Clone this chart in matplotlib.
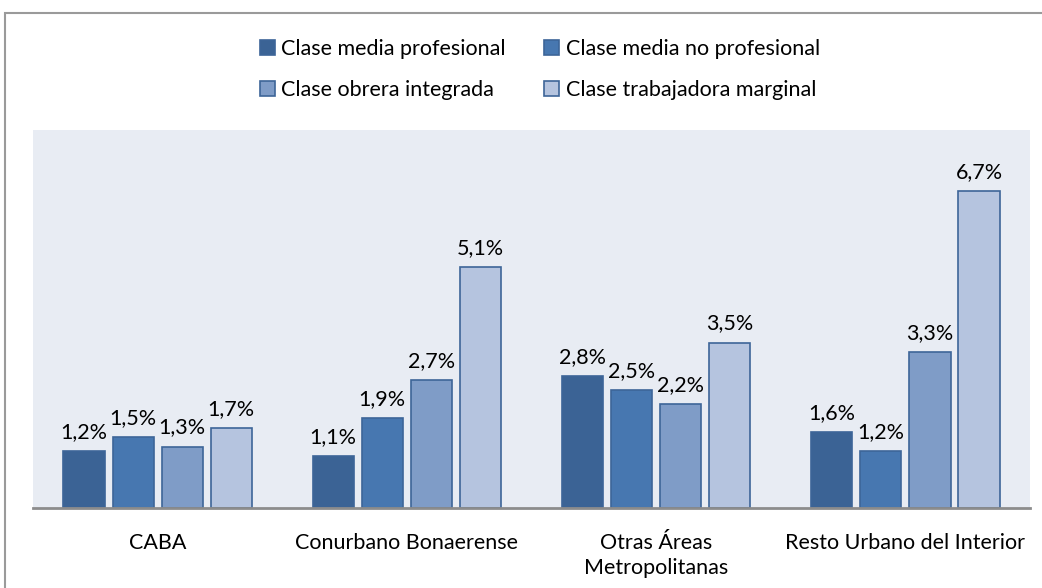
import numpy as np
import matplotlib.pyplot as plt
from matplotlib.patches import Rectangle

regiones = ['CABA', 'Conurbano Bonaerense', 'Otras Áreas\nMetropolitanas', 'Resto Urbano del Interior']
clases = ['Clase media profesional', 'Clase media no profesional',
          'Clase obrera integrada', 'Clase trabajadora marginal']
media_prof = [1.2, 1.1, 2.8, 1.6]
media_no_prof = [1.5, 1.9, 2.5, 1.2]
obrera_int = [1.3, 2.7, 2.2, 3.3]
trab_marginal = [1.7, 5.1, 3.5, 6.7]

series = [media_prof, media_no_prof, obrera_int, trab_marginal]
colores = ['#3B6395', '#4777B0', '#7F9CC7', '#B5C4DF']

plt.rcParams['font.family'] = ['Lato', 'DejaVu Sans']

fig = plt.figure(figsize=(10.42, 5.88), dpi=100)
ax = fig.add_axes([0.0317, 0.136, 0.9568, 0.643])
ax.set_facecolor('#E8ECF3')

x = np.arange(len(regiones))
paso = 0.197
ancho = 0.165
handles = []
for i, (vals, col) in enumerate(zip(series, colores)):
    pos = x + (i - 1.5) * paso
    bars = ax.bar(pos, vals, ancho, color=col, edgecolor='#3D6598', linewidth=1.2,
                  label=clases[i], zorder=2)
    handles.append(bars)
    for b, v in zip(bars, vals):
        ax.annotate('{:.1f}%'.format(v).replace('.', ','),
                    (b.get_x() + b.get_width() / 2, v), xytext=(0, 6.5),
                    textcoords='offset points', ha='center', va='bottom', fontsize=15.5)

ax.set_xlim(-0.5, 3.5)
ax.set_ylim(0, 8.0)
ax.set_yticks([])
ax.set_xticks(x)
ax.set_xticklabels(regiones, fontsize=15.5, linespacing=1.3)
ax.tick_params(axis='x', length=0, pad=18)
for s in ['top', 'right', 'left']:
    ax.spines[s].set_visible(False)
ax.spines['bottom'].set_color('#8C8C8C')
ax.spines['bottom'].set_linewidth(2)

# chart border (cropped at right and bottom)
fig.patches.append(Rectangle((5 / 1042, -0.05), 1.2, 0.978 + 0.05, transform=fig.transFigure,
                             fill=False, edgecolor='#9A9A9A', linewidth=1.5))

# legend filled row by row
orden = [0, 2, 1, 3]
fig.legend([handles[k] for k in orden], [clases[k] for k in orden],
           loc='center', bbox_to_anchor=(0.518, 0.882), ncol=2, frameon=False, fontsize=15.5,
           handlelength=0.7, handleheight=0.7, handletextpad=0.3, columnspacing=1.8,
           labelspacing=0.95)

fig.savefig('out.png', dpi=100)
